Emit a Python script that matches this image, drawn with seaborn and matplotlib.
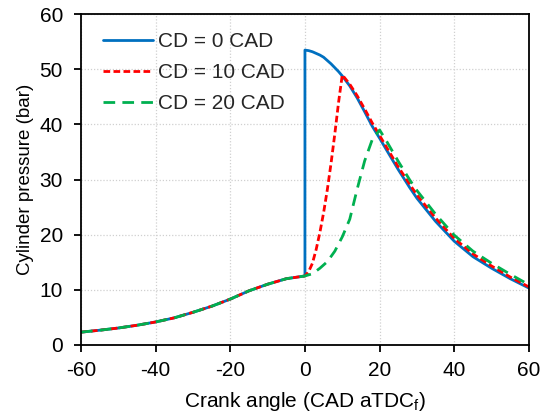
import numpy as np
import pandas as pd
import matplotlib
matplotlib.use("Agg")
import matplotlib.pyplot as plt
import seaborn as sns

# Shared compression stroke (bar) before combustion
comp_ca = [-60, -55, -50, -45, -40, -35, -30, -25, -20, -15, -10, -5, 0]
comp_p = [2.3, 2.65, 3.05, 3.55, 4.15, 4.9, 5.9, 7.0, 8.3, 9.8, 11.0, 12.0, 12.5]

# CD = 0 CAD: instantaneous rise at TDC, then expansion
cd0_ca = [0, 1, 2, 3, 4, 5, 6, 7, 8, 9, 10, 12, 14, 16, 18, 20, 22, 25, 28,
          30, 35, 40, 45, 50, 55, 60]
cd0_p = [53.5, 53.4, 53.2, 52.9, 52.6, 52.2, 51.6, 51.0, 50.3, 49.6, 48.8,
         47.0, 44.8, 42.3, 39.7, 37.5, 35.2, 31.8, 28.6, 26.6, 22.4, 18.8,
         16.0, 13.9, 12.0, 10.3]

# CD = 10 CAD: combustion rise then expansion
cd10_ca = [0, 1, 2, 3, 4, 5, 6, 7, 8, 9, 10, 12, 14, 16, 18, 20, 22, 25, 28,
           30, 35, 40, 45, 50, 55, 60]
cd10_p = [12.5, 13.3, 14.8, 17.3, 20.4, 24.0, 28.2, 33.0, 38.3, 44.0, 49.0,
          47.3, 45.2, 42.8, 40.3, 38.0, 35.7, 32.3, 29.2, 27.2, 23.0, 19.3,
          16.5, 14.3, 12.3, 10.5]

# CD = 20 CAD: combustion rise then expansion
cd20_ca = [0, 2, 4, 6, 8, 10, 12, 14, 16, 18, 20, 22, 25, 28, 30, 35, 40, 45,
           50, 55, 60]
cd20_p = [12.5, 12.9, 13.9, 15.1, 17.0, 19.6, 22.8, 28.3, 33.4, 37.2, 39.0,
          36.8, 33.3, 30.0, 28.0, 23.7, 19.9, 17.0, 14.8, 12.8, 10.9]

labels = ["CD = 0 CAD", "CD = 10 CAD", "CD = 20 CAD"]
colors = ["#0070C0", "#FF0000", "#00B050"]
styles = ["-", (0, (2.4, 1.2)), (0, (4.2, 2.6))]

sns.set_theme(style="white")
plt.rcParams["font.family"] = ["Liberation Sans", "DejaVu Sans"]
plt.rcParams["axes.unicode_minus"] = False
plt.rcParams["mathtext.fontset"] = "custom"
plt.rcParams["mathtext.rm"] = "Liberation Sans"
plt.rcParams["mathtext.it"] = "Liberation Sans"

fig = plt.figure(figsize=(5.47, 4.2), dpi=100)
ax = fig.add_axes([0.148, 0.179, 0.819, 0.787])

series = [
    (comp_ca + cd0_ca, comp_p + cd0_p),
    (comp_ca[:-1] + cd10_ca, comp_p[:-1] + cd10_p),
    (comp_ca[:-1] + cd20_ca, comp_p[:-1] + cd20_p),
]

for (xs, ys), lab, col, ls in zip(series, labels, colors, styles):
    df = pd.DataFrame({"ca": xs, "p": ys})
    sns.lineplot(data=df, x="ca", y="p", ax=ax, estimator=None, sort=False,
                 color=col, linestyle=ls, linewidth=2.0, label=lab)

ax.set_xlim(-60, 60)
ax.set_ylim(0, 60)
ax.set_xticks(np.arange(-60, 61, 20))
ax.set_yticks(np.arange(0, 61, 10))
ax.grid(True, color="#d0d0d0", linestyle=(0, (1, 1.5)), linewidth=0.9)
ax.set_axisbelow(True)
for s in ax.spines.values():
    s.set_color("black")
    s.set_linewidth(1.3)
ax.tick_params(axis="both", which="major", direction="out", length=5,
               width=1.3, color="black", labelsize=15, labelcolor="black",
               bottom=True, left=True)
ax.tick_params(axis="x", pad=7)
ax.tick_params(axis="y", pad=8)
ax.set_xlabel("Crank angle (CAD aTDC$\\mathregular{_f}$)", fontsize=15,
              color="black", labelpad=7)
ax.set_ylabel("Cylinder pressure (bar)", fontsize=13.5, color="black",
              labelpad=4)

leg = ax.legend(loc="upper left", frameon=False, fontsize=15,
                handlelength=2.4, handletextpad=0.25, labelspacing=0.57,
                borderpad=0.0, borderaxespad=0.0,
                bbox_to_anchor=(0.049, 0.946))

fig.savefig("out.png", dpi=100)
